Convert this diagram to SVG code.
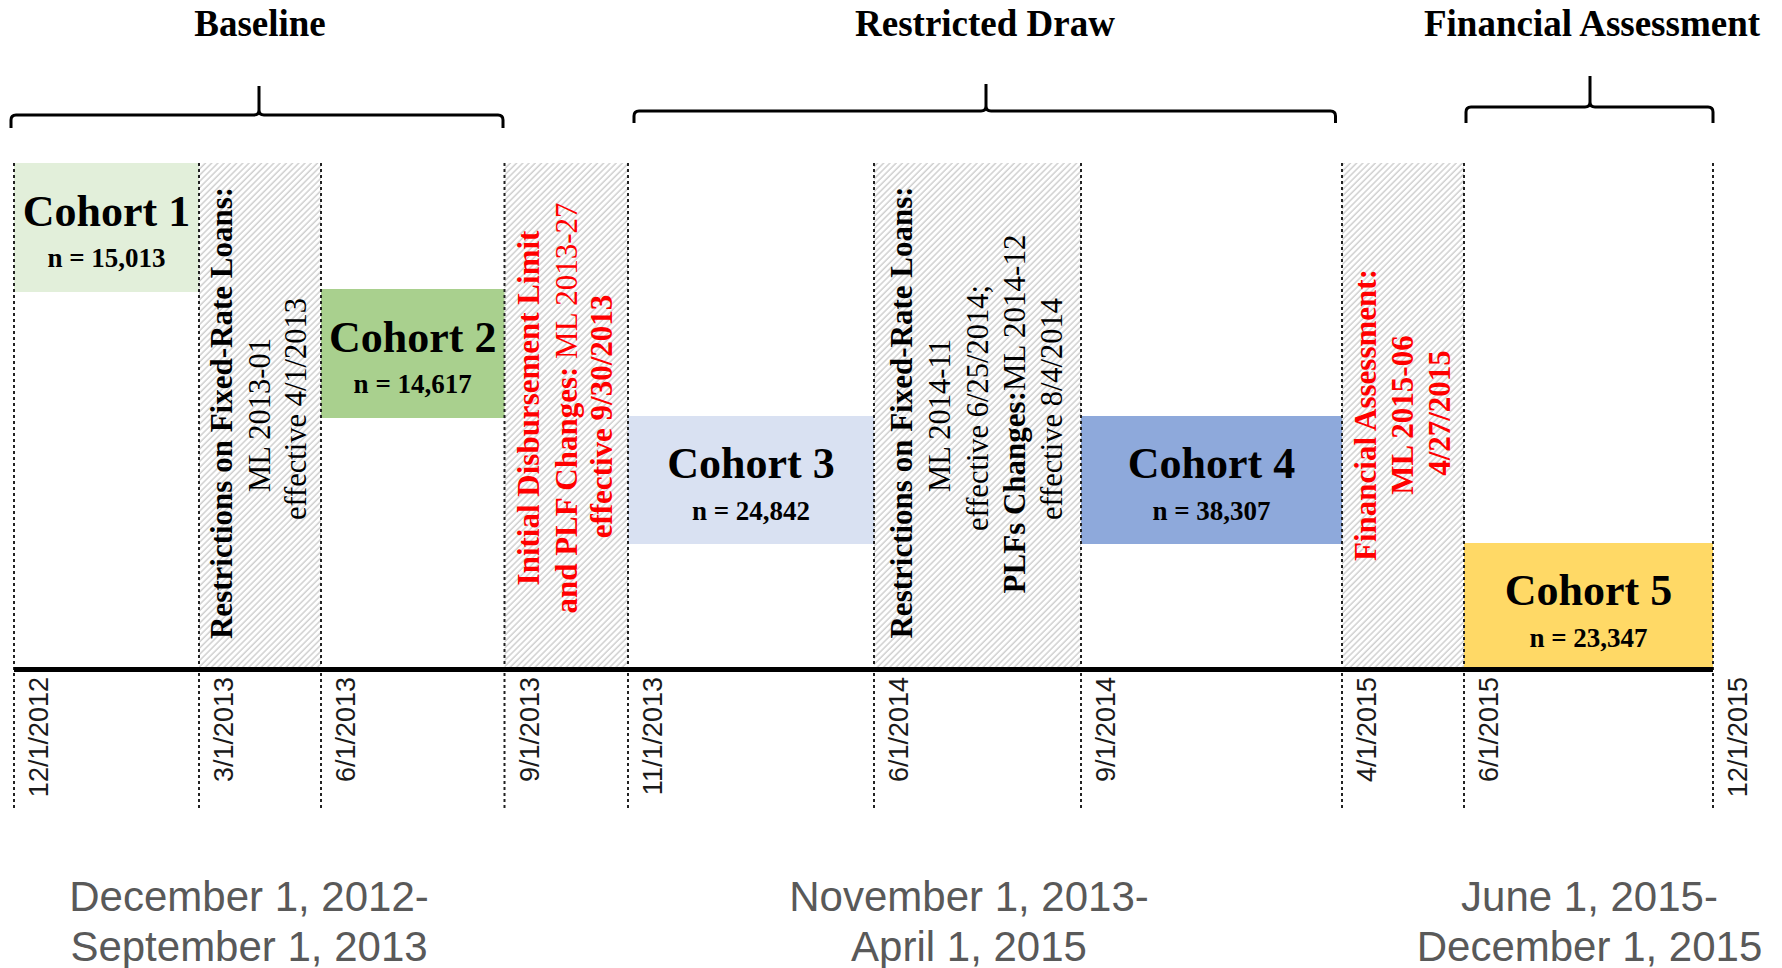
<svg xmlns="http://www.w3.org/2000/svg" width="1782" height="968" viewBox="0 0 1782 968">
<style>
.hdr{font-family:"Liberation Serif","Times New Roman",serif;font-weight:bold;font-size:37px;fill:#000;text-anchor:middle}
.ct{font-family:"Liberation Serif","Times New Roman",serif;font-weight:bold;font-size:44px;fill:#000;text-anchor:middle}
.cn{font-family:"Liberation Serif","Times New Roman",serif;font-weight:bold;font-size:27px;fill:#000;text-anchor:middle}
.vb{font-family:"Liberation Serif","Times New Roman",serif;font-weight:bold;font-size:31px;text-anchor:middle}
.vr{font-family:"Liberation Serif","Times New Roman",serif;font-weight:normal;font-size:30.5px;text-anchor:middle}
.blk{fill:#000}
.red{fill:#ff0000}
.date{font-family:"Liberation Sans",Arial,sans-serif;font-size:27px;fill:#1a1a1a;text-anchor:end}
.per{font-family:"Liberation Sans",Arial,sans-serif;font-size:42px;fill:#595959;text-anchor:middle}
.dot{stroke:#222;stroke-width:2;stroke-dasharray:3 3;fill:none}
.brace{stroke:#000;stroke-width:3;fill:none;stroke-linejoin:round}
.hatch{fill:url(#hp)}
</style>
<defs>
<pattern id="hp" patternUnits="userSpaceOnUse" width="4.4" height="10" patternTransform="rotate(45)">
<rect width="4.4" height="10" fill="#ffffff"/>
<line x1="1" y1="0" x2="1" y2="10" stroke="#cdcdcd" stroke-width="1.4"/>
</pattern>
</defs>

<g id="hatched-bands">
<rect class="hatch" x="199" y="163" width="122" height="505"/>
<rect class="hatch" x="504.5" y="163" width="123.5" height="505"/>
<rect class="hatch" x="874" y="163" width="207" height="505"/>
<rect class="hatch" x="1342" y="163" width="122" height="505"/>
</g>

<g id="cohort1">
<rect x="14" y="163" width="185" height="129" fill="#e2efda"/>
<text class="ct" x="106.5" y="226">Cohort 1</text>
<text class="cn" x="106.5" y="267">n = 15,013</text>
</g>
<g id="cohort2">
<rect x="321" y="289" width="183.5" height="129" fill="#a9d08e"/>
<text class="ct" x="412.7" y="352">Cohort 2</text>
<text class="cn" x="412.7" y="393">n = 14,617</text>
</g>
<g id="cohort3">
<rect x="628" y="416" width="246" height="128" fill="#d9e1f2"/>
<text class="ct" x="751" y="478">Cohort 3</text>
<text class="cn" x="751" y="520">n = 24,842</text>
</g>
<g id="cohort4">
<rect x="1081" y="416" width="261" height="128" fill="#8ea9db"/>
<text class="ct" x="1211.5" y="478">Cohort 4</text>
<text class="cn" x="1211.5" y="520">n = 38,307</text>
</g>
<g id="cohort5">
<rect x="1464" y="543" width="249" height="125" fill="#ffd966"/>
<text class="ct" x="1588.5" y="605">Cohort 5</text>
<text class="cn" x="1588.5" y="647">n = 23,347</text>
</g>

<g id="connectors">
<line class="dot" x1="14" y1="163" x2="14" y2="808"/>
<line class="dot" x1="199" y1="163" x2="199" y2="808"/>
<line class="dot" x1="321" y1="163" x2="321" y2="808"/>
<line class="dot" x1="504.5" y1="163" x2="504.5" y2="808"/>
<line class="dot" x1="628" y1="163" x2="628" y2="808"/>
<line class="dot" x1="874" y1="163" x2="874" y2="808"/>
<line class="dot" x1="1081" y1="163" x2="1081" y2="808"/>
<line class="dot" x1="1342" y1="163" x2="1342" y2="808"/>
<line class="dot" x1="1464" y1="163" x2="1464" y2="808"/>
<line class="dot" x1="1713" y1="163" x2="1713" y2="808"/>
<line x1="14" y1="669.5" x2="1713" y2="669.5" stroke="#000" stroke-width="5"/>
<path class="brace" d="M11 128 L11 120 Q11 115 16 115 L254 115 Q259 115 259 110 L259 86 M259 110 Q259 115 264 115 L498 115 Q503 115 503 120 L503 128"/>
<path class="brace" d="M634 123 L634 116 Q634 111 639 111 L981 111 Q986 111 986 106 L986 84 M986 106 Q986 111 991 111 L1330.5 111 Q1335.5 111 1335.5 116 L1335.5 123"/>
<path class="brace" d="M1466 123 L1466 112 Q1466 107 1471 107 L1585 107 Q1590 107 1590 102 L1590 76 M1590 102 Q1590 107 1595 107 L1708 107 Q1713 107 1713 112 L1713 123"/>
</g>

<g id="headers">
<text class="hdr" x="260" y="36">Baseline</text>
<text class="hdr" x="985" y="36">Restricted Draw</text>
<text class="hdr" x="1592" y="36">Financial Assessment</text>
</g>

<g id="event-2013-01">
<text class="vb blk" transform="translate(232,413) rotate(-90)">Restrictions on Fixed-Rate Loans:</text>
<text class="vr blk" transform="translate(270,415) rotate(-90)">ML 2013-01</text>
<text class="vr blk" transform="translate(306,409) rotate(-90)">effective 4/1/2013</text>
</g>
<g id="event-2013-27">
<text class="vb red" transform="translate(539,408) rotate(-90)">Initial Disbursement Limit</text>
<text class="vb red" transform="translate(577,408) rotate(-90)">and PLF Changes: <tspan font-weight="normal">ML 2013-27</tspan></text>
<text class="vb red" transform="translate(612,416.5) rotate(-90)">effective 9/30/2013</text>
</g>
<g id="event-2014">
<text class="vb blk" transform="translate(912,412.5) rotate(-90)">Restrictions on Fixed-Rate Loans:</text>
<text class="vr blk" transform="translate(950,415.5) rotate(-90)">ML 2014-11</text>
<text class="vr blk" transform="translate(988,408) rotate(-90)">effective 6/25/2014;</text>
<text class="vb blk" transform="translate(1025,414) rotate(-90)">PLFs Changes:<tspan font-weight="normal">ML 2014-12</tspan></text>
<text class="vr blk" transform="translate(1062,409) rotate(-90)">effective 8/4/2014</text>
</g>
<g id="event-2015-06">
<text class="vb red" transform="translate(1376,415) rotate(-90)">Financial Assessment:</text>
<text class="vb red" transform="translate(1413,415) rotate(-90)">ML 2015-06</text>
<text class="vb red" transform="translate(1450,413) rotate(-90)">4/27/2015</text>
</g>

<g id="dates">
<text class="date" transform="translate(48,677) rotate(-90)">12/1/2012</text>
<text class="date" transform="translate(233,677) rotate(-90)">3/1/2013</text>
<text class="date" transform="translate(355,677) rotate(-90)">6/1/2013</text>
<text class="date" transform="translate(538.5,677) rotate(-90)">9/1/2013</text>
<text class="date" transform="translate(662,677) rotate(-90)">11/1/2013</text>
<text class="date" transform="translate(908,677) rotate(-90)">6/1/2014</text>
<text class="date" transform="translate(1115,677) rotate(-90)">9/1/2014</text>
<text class="date" transform="translate(1376,677) rotate(-90)">4/1/2015</text>
<text class="date" transform="translate(1498,677) rotate(-90)">6/1/2015</text>
<text class="date" transform="translate(1747,677) rotate(-90)">12/1/2015</text>
</g>

<g id="periods">
<text class="per" x="249" y="911">December 1, 2012-</text>
<text class="per" x="249" y="961">September 1, 2013</text>
<text class="per" x="969" y="911">November 1, 2013-</text>
<text class="per" x="969" y="961">April 1, 2015</text>
<text class="per" x="1589.5" y="911">June 1, 2015-</text>
<text class="per" x="1589.5" y="961">December 1, 2015</text>
</g>
</svg>
